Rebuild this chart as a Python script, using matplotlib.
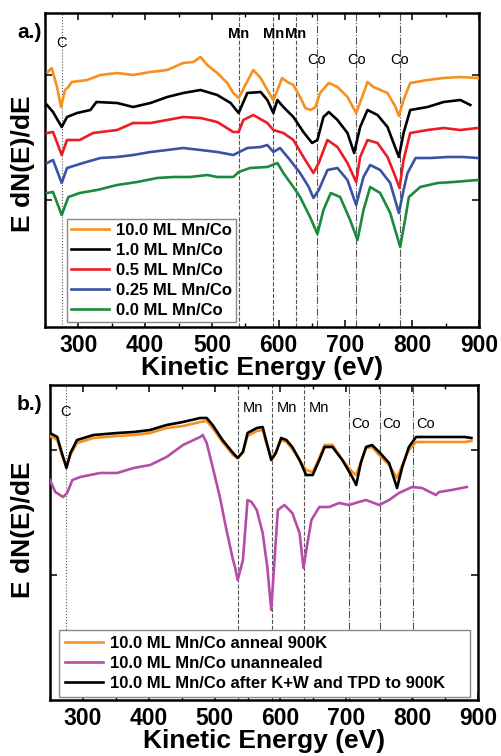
import matplotlib
matplotlib.use('Agg')
import matplotlib.pyplot as plt
from matplotlib.ticker import MultipleLocator

plt.rcParams['font.family'] = ['Liberation Sans', 'DejaVu Sans']
plt.rcParams['font.weight'] = 'bold'
plt.rcParams['axes.labelweight'] = 'bold'

# ---------------- Panel a data (kinetic energy eV, signal a.u.) ----------------
a_orange_x = [254, 260, 268, 274, 280, 285, 290, 313, 333, 358, 382, 408, 433, 457, 472, 483, 493, 508, 523, 532,
              540, 550, 562, 573, 583, 592, 600, 605, 613, 622, 632, 640, 648, 655, 662, 675, 688, 703, 716, 725,
              733, 742, 763, 775, 780, 787, 797, 823, 847, 872, 898]
a_orange_y = [255, 259, 240, 220, 237, 240, 245, 247, 252, 254, 252, 255, 257, 264, 265, 270, 262, 254, 244, 234,
              229, 242, 257, 249, 237, 227, 240, 249, 245, 242, 230, 219, 217, 220, 234, 244, 240, 230, 214, 230,
              245, 240, 234, 220, 211, 227, 244, 247, 249, 250, 249]

a_black_x = [253, 262, 275, 283, 298, 318, 327, 358, 382, 408, 433, 457, 483, 508, 528, 540, 553, 573, 583, 592,
             598, 607, 622, 637, 650, 658, 667, 675, 688, 703, 713, 722, 733, 748, 763, 772, 780, 787, 797, 823,
             847, 872, 887]
a_black_y = [222, 215, 200, 210, 214, 217, 225, 224, 220, 224, 230, 234, 237, 232, 224, 214, 234, 235, 227, 214,
             227, 220, 210, 195, 184, 187, 210, 215, 207, 194, 174, 200, 217, 212, 200, 184, 170, 194, 217, 220,
             225, 227, 222]

a_red_x = [253, 262, 275, 283, 302, 322, 358, 382, 408, 433, 457, 483, 508, 532, 540, 547, 562, 583, 592, 607,
           622, 637, 652, 660, 673, 688, 703, 716, 722, 733, 748, 763, 775, 781, 787, 797, 823, 847, 872, 898]
a_red_y = [194, 195, 172, 187, 187, 194, 197, 204, 204, 207, 210, 209, 205, 195, 195, 207, 212, 204, 197, 194,
           187, 170, 154, 164, 187, 180, 164, 145, 170, 187, 184, 170, 150, 139, 167, 194, 197, 199, 197, 199]

a_blue_x = [253, 262, 275, 283, 307, 333, 358, 382, 408, 433, 457, 483, 508, 532, 553, 573, 583, 592, 602, 617,
            632, 645, 652, 660, 673, 688, 703, 716, 727, 737, 752, 767, 780, 787, 793, 805, 827, 853, 877, 898]
a_blue_y = [164, 167, 144, 159, 164, 169, 170, 172, 175, 177, 179, 177, 175, 172, 179, 180, 182, 175, 179, 167,
            154, 140, 129, 137, 157, 159, 147, 122, 150, 162, 157, 144, 114, 137, 154, 169, 169, 170, 170, 169]

a_green_x = [253, 262, 275, 285, 302, 328, 358, 388, 418, 442, 467, 493, 508, 532, 540, 557, 583, 598, 607, 622,
             632, 647, 658, 667, 678, 692, 707, 718, 727, 737, 752, 767, 782, 790, 795, 812, 838, 862, 898]
a_green_y = [134, 135, 112, 130, 134, 137, 142, 145, 149, 150, 150, 152, 150, 150, 155, 159, 160, 164, 154, 140,
             130, 110, 93, 117, 134, 130, 107, 87, 117, 140, 134, 114, 80, 110, 130, 140, 144, 145, 147]

a_labels = ['10.0 ML Mn/Co', '1.0 ML Mn/Co', '0.5 ML Mn/Co', '0.25 ML Mn/Co', '0.0 ML Mn/Co']
a_lines_C = [275]
a_lines_Mn = [540, 592, 626]
a_lines_Co = [657, 716, 781]

# ---------------- Panel b data ----------------
b_black_x = [250, 261, 268, 275, 281, 291, 316, 352, 377, 402, 427, 452, 478, 488, 497, 512, 528, 535, 543, 550,
             564, 573, 578, 586, 593, 601, 609, 618, 629, 639, 649, 659, 667, 679, 694, 709, 715, 722, 730, 739,
             750, 765, 777, 785, 795, 806, 830, 855, 880, 890]
b_black_y = [267, 263, 247, 232, 247, 260, 265, 267, 268, 270, 275, 278, 282, 282, 275, 260, 247, 242, 248, 267,
             272, 273, 260, 240, 247, 262, 260, 253, 240, 225, 225, 240, 253, 253, 240, 223, 215, 237, 253, 255,
             248, 237, 212, 233, 253, 263, 263, 263, 263, 262]

b_orange_x = b_black_x
b_orange_y = [264, 260, 245, 234, 245, 257, 262, 264, 265, 267, 272, 274, 278, 279, 272, 258, 245, 242, 248, 264,
              269, 270, 258, 242, 248, 260, 258, 251, 240, 230, 228, 242, 255, 255, 240, 228, 225, 238, 252, 253,
              245, 235, 222, 235, 250, 258, 258, 258, 258, 259]

b_mag_x = [250, 258, 270, 276, 284, 296, 326, 352, 377, 402, 427, 452, 478, 482, 488, 497, 508, 518, 528, 531,
           535, 543, 550, 556, 564, 573, 580, 586, 591, 596, 606, 618, 629, 635, 640, 647, 659, 674, 689, 704,
           719, 730, 750, 765, 780, 800, 815, 836, 841, 860, 883]
b_mag_y = [220, 208, 203, 207, 220, 223, 227, 227, 232, 235, 243, 255, 263, 265, 257, 233, 203, 170, 140, 133,
           120, 140, 200, 198, 190, 167, 133, 90, 140, 190, 195, 187, 167, 132, 153, 180, 193, 193, 197, 195,
           198, 200, 195, 200, 207, 213, 212, 205, 208, 210, 213]

b_labels = ['10.0 ML Mn/Co anneal 900K', '10.0 ML Mn/Co unannealed', '10.0 ML Mn/Co after K+W and TPD to 900K']
b_lines_C = [274]
b_lines_Mn = [535, 587, 636]
b_lines_Co = [704, 751, 802]

C_ORANGE = '#F7901E'
C_BLACK = '#000000'
C_RED = '#EC1C24'
C_BLUE = '#3A52A3'
C_GREEN = '#1A8A3C'
C_MAG = '#B54DA6'
LINE_GRAY = '#555555'

fig = plt.figure(figsize=(5.02, 7.56), dpi=100)
ax1 = fig.add_axes([45 / 502, (756 - 327) / 756, 434 / 502, 314 / 756])
ax2 = fig.add_axes([50 / 502, (756 - 700) / 756, 428 / 502, 315 / 756])


def style_axes(ax, xlim, ylim, yticks):
    ax.set_xlim(*xlim)
    ax.set_ylim(*ylim)
    ax.xaxis.set_major_locator(MultipleLocator(100))
    ax.xaxis.set_minor_locator(MultipleLocator(50))
    ax.set_yticks(yticks)
    ax.set_yticklabels([])
    ax.tick_params(axis='both', which='both', direction='in', top=True, right=True)
    ax.tick_params(axis='both', which='major', length=5, width=1.1)
    ax.tick_params(axis='both', which='minor', length=3, width=1.0)
    ax.tick_params(axis='x', which='major', labelsize=16.5, pad=5)
    for lbl in ax.get_xticklabels():
        lbl.set_fontweight('bold')
    for sp in ax.spines.values():
        sp.set_linewidth(1.8)
    ax.set_xlabel('Kinetic Energy (eV)', fontsize=19, fontweight='bold', labelpad=-1)
    ax.set_ylabel('E dN(E)/dE', fontsize=19, fontweight='bold')


def vlines(ax, xs, ls):
    for x in xs:
        ax.axvline(x, color=LINE_GRAY, lw=0.8, ls=ls, zorder=1)


# ---------------- Panel a ----------------
vlines(ax1, a_lines_C, ':')
vlines(ax1, a_lines_Mn, '--')
vlines(ax1, a_lines_Co, '-.')
lw = 1.9
ax1.plot(a_green_x, a_green_y, color=C_GREEN, lw=lw, label=a_labels[4], zorder=3)
ax1.plot(a_blue_x, a_blue_y, color=C_BLUE, lw=lw, label=a_labels[3], zorder=3)
ax1.plot(a_red_x, a_red_y, color=C_RED, lw=lw, label=a_labels[2], zorder=3)
ax1.plot(a_black_x, a_black_y, color=C_BLACK, lw=lw, label=a_labels[1], zorder=3)
ax1.plot(a_orange_x, a_orange_y, color=C_ORANGE, lw=lw, label=a_labels[0], zorder=3)
style_axes(ax1, (250, 900), (0, 314), [127, 252])
ax1.yaxis.set_label_coords(-0.022, 0.52)

for x in a_lines_C:
    ax1.text(x, 284, 'C', ha='center', va='center', fontsize=10.5, fontweight='normal')
for x in a_lines_Mn:
    ax1.text(x, 293, 'Mn', ha='center', va='center', fontsize=10.5, fontweight='bold')
for x in a_lines_Co:
    ax1.text(x, 267, 'Co', ha='center', va='center', fontsize=10.5, fontweight='normal')

h, l = ax1.get_legend_handles_labels()
order = [4, 3, 2, 1, 0]
leg1 = ax1.legend([h[i] for i in order], [l[i] for i in order], loc='lower left',
                  bbox_to_anchor=(0.05, 0.016), frameon=True, fancybox=False, edgecolor='#888888',
                  framealpha=1, fontsize=12, handlelength=2.3, handletextpad=0.4, borderpad=0.25,
                  labelspacing=0.3, borderaxespad=0)
leg1.get_frame().set_linewidth(1.0)
leg1.set_zorder(5)

fig.text(17 / 502, 1 - 33 / 756, 'a.)', fontsize=15, fontweight='bold', ha='left', va='center')

# ---------------- Panel b ----------------
vlines(ax2, b_lines_C, ':')
vlines(ax2, b_lines_Mn, '--')
vlines(ax2, b_lines_Co, '-.')
ax2.plot(b_orange_x, b_orange_y, color=C_ORANGE, lw=lw, label=b_labels[0], zorder=3)
ax2.plot(b_mag_x, b_mag_y, color=C_MAG, lw=lw, label=b_labels[1], zorder=3)
ax2.plot(b_black_x, b_black_y, color=C_BLACK, lw=lw, label=b_labels[2], zorder=4)
style_axes(ax2, (250, 900), (0, 315), [125, 250])
ax2.yaxis.set_label_coords(-0.035, 0.54)

for x in b_lines_C:
    ax2.text(x, 288, 'C', ha='center', va='center', fontsize=10.5, fontweight='normal')
for x in b_lines_Mn:
    ax2.text(x + 7, 292, 'Mn', ha='left', va='center', fontsize=10.5, fontweight='normal')
for x in b_lines_Co:
    ax2.text(x + 4, 276, 'Co', ha='left', va='center', fontsize=10.5, fontweight='normal')

leg2 = ax2.legend(loc='lower left', bbox_to_anchor=(0.021, 0.01, 0.96, 0.2), mode='expand',
                  frameon=True, fancybox=False, edgecolor='#888888', framealpha=1, fontsize=12,
                  handlelength=2.3, handletextpad=0.4, borderpad=0.35, labelspacing=0.3, borderaxespad=0)
leg2.get_frame().set_linewidth(1.0)
leg2.set_zorder(5)

fig.text(17 / 502, 1 - 405 / 756, 'b.)', fontsize=15, fontweight='bold', ha='left', va='center')

fig.savefig('out.png', dpi=100)
